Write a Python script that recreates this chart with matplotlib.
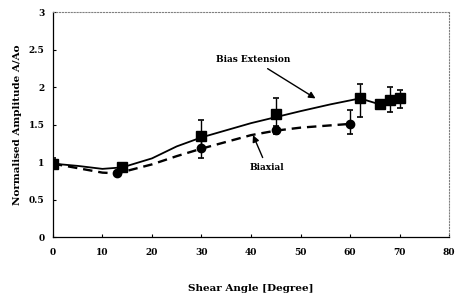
import numpy as np
import matplotlib.pyplot as plt

# measured points
bias_x = [0, 14, 30, 45, 62, 66, 68, 70]
bias_y = [0.98, 0.93, 1.35, 1.64, 1.85, 1.77, 1.83, 1.85]
bias_lo = [0.05, 0.03, 0.20, 0.19, 0.25, 0.0, 0.16, 0.13]
bias_hi = [0.07, 0.03, 0.21, 0.21, 0.19, 0.0, 0.17, 0.11]

biax_x = [0, 13, 30, 45, 60]
biax_y = [0.98, 0.85, 1.19, 1.43, 1.51]
biax_lo = [0.03, 0.04, 0.14, 0.05, 0.13]
biax_hi = [0.03, 0.03, 0.11, 0.05, 0.18]

# trend curves
bfit_x = [0, 5, 10, 14, 20, 25, 30, 40, 50, 56, 62, 66, 68, 70]
bfit_y = [0.98, 0.95, 0.91, 0.93, 1.05, 1.21, 1.33, 1.52, 1.68, 1.77, 1.85, 1.77, 1.83, 1.85]
afit_x = [0, 5, 10, 13, 20, 25, 30, 40, 45, 50, 60]
afit_y = [0.98, 0.92, 0.86, 0.85, 0.97, 1.08, 1.18, 1.36, 1.42, 1.46, 1.51]

font = dict(family="DejaVu Serif", fontweight="bold", fontsize=6.5)
labfont = dict(family="DejaVu Serif", fontweight="bold", fontsize=7.5)

fig = plt.figure(figsize=(4.56, 3.04), dpi=100)
ax = fig.add_axes([0.116, 0.22, 0.869, 0.74])

ax.plot(bfit_x, bfit_y, "-", color="black", lw=1.3)
ax.plot(afit_x, afit_y, "--", color="black", lw=1.7, dashes=(4, 2.5))
ax.errorbar(bias_x, bias_y, yerr=[bias_lo, bias_hi], fmt="s", color="black",
            ms=6.5, capsize=2.5, elinewidth=1, capthick=1.2)
ax.errorbar(biax_x, biax_y, yerr=[biax_lo, biax_hi], fmt="o", color="black",
            ms=6, capsize=2.5, elinewidth=1, capthick=1.2)

ax.annotate("Bias Extension", xy=(53.5, 1.83), xytext=(33, 2.33),
            arrowprops=dict(arrowstyle="-|>,head_length=0.6,head_width=0.3",
                            color="black", lw=1.0), **font)
ax.annotate("Biaxial", xy=(40.4, 1.36), xytext=(43.2, 0.93), ha="center", va="center",
            arrowprops=dict(arrowstyle="-|>,head_length=0.6,head_width=0.3",
                            color="black", lw=1.0, shrinkB=0), **font)

ax.set_xlim(0, 80)
ax.set_ylim(0, 3)
ax.set_xticks(range(0, 81, 10))
ax.set_yticks([0, 0.5, 1, 1.5, 2, 2.5, 3])
ax.set_yticklabels(["0", "0.5", "1", "1.5", "2", "2.5", "3"])
ax.tick_params(direction="in", length=2, width=0.8, labelsize=6.5, pad=8)
ax.tick_params(axis="y", pad=6)
for lab in ax.get_xticklabels() + ax.get_yticklabels():
    lab.set_family("DejaVu Serif")
    lab.set_fontweight("bold")

for s in ["top", "right"]:
    ax.spines[s].set_linestyle(":")
    ax.spines[s].set_color("gray")
    ax.spines[s].set_linewidth(0.8)
for s in ["left", "bottom"]:
    ax.spines[s].set_linewidth(0.9)

ax.set_xlabel("Shear Angle [Degree]", labelpad=19, **labfont)
ax.set_ylabel("Normalised Amplitude A/Ao", labelpad=5, **labfont)

fig.savefig("out.png", dpi=100)
